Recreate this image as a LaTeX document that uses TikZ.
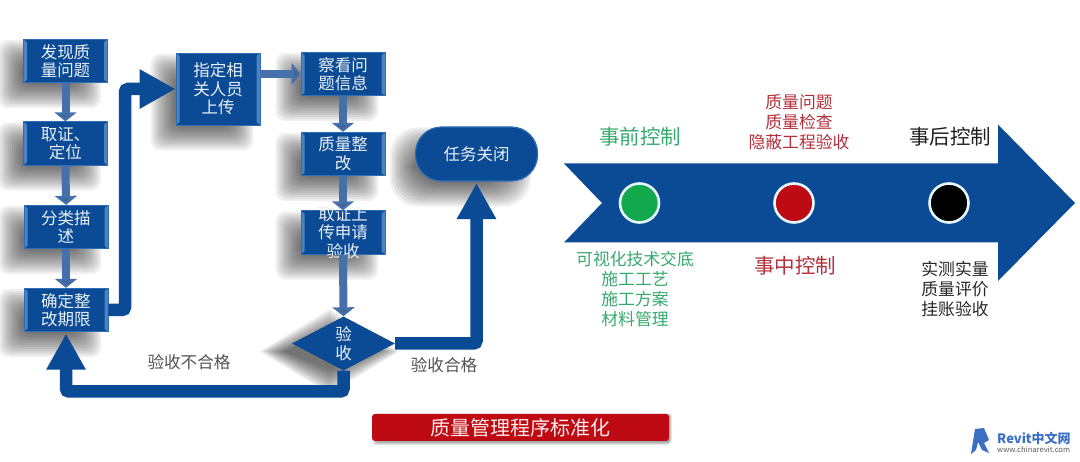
\documentclass[tikz,border=0pt]{standalone}
\usepackage{fontspec}
\setmainfont{Noto Sans CJK SC}
\usepackage{xcolor}
\usetikzlibrary{arrows.meta,shapes.geometric,backgrounds}
\definecolor{flowblue}{HTML}{0B4A94}
\definecolor{edgeblue}{HTML}{2F6DB5}
\definecolor{bevelblue}{HTML}{4A82C4}
\definecolor{shaftblue}{HTML}{4670AA}
\definecolor{pregreen}{HTML}{35A96E}
\definecolor{midred}{HTML}{B2303C}
\definecolor{logoblue}{HTML}{3B6FC4}
\definecolor{titlered}{HTML}{BE0A12}
\definecolor{dotgreen}{HTML}{11A84E}
\newcommand{\boxshadow}[2][4pt]{
    \begin{scope}[on background layer]
        \foreach \g in {0,...,12} {
            \fill[black,opacity=0.058,rounded corners=#1+6pt] ([shift={(-13pt-12pt+\g*2pt,-13pt-12pt+\g*2pt)}]#2.south west) rectangle ([shift={(-19pt+12pt-\g*2pt,-13pt+12pt-\g*2pt)}]#2.north east);
        }
    \end{scope}
}
\newcommand{\diamondshadow}[1]{
    \begin{scope}[on background layer]
        \foreach \g in {0,...,12} {
            \fill[black,opacity=0.058] ([shift={(-14pt,-8pt+15pt-\g*2pt)}]#1.north) -- ([shift={(-14pt+18pt-\g*2pt,-8pt)}]#1.east) -- ([shift={(-14pt,-8pt-15pt+\g*2pt)}]#1.south) -- ([shift={(-14pt-18pt+\g*2pt,-8pt)}]#1.west) -- cycle;
        }
    \end{scope}
}
\tikzset{
    boxtext/.style={text=white!92!flowblue,align=center,font=\fontsize{16.5}{18.5}\selectfont,inner sep=0pt},
    bluebox/.style={boxtext,rectangle,fill=flowblue,draw=edgeblue,line width=0.8pt,minimum width=84pt,minimum height=43.5pt,
        path picture={
            \fill[bevelblue] (path picture bounding box.north west) -- ([shift={(3.5pt,-3pt)}]path picture bounding box.north west) -- ([shift={(3.5pt,3pt)}]path picture bounding box.south west) -- (path picture bounding box.south west) -- cycle;
            \fill[bevelblue] (path picture bounding box.north east) -- ([shift={(-3.5pt,-3pt)}]path picture bounding box.north east) -- ([shift={(-3.5pt,3pt)}]path picture bounding box.south east) -- (path picture bounding box.south east) -- cycle;
        }},
    smallarrow/.style={draw=shaftblue,line width=8pt,-{Triangle[length=9pt,width=22pt,fill=shaftblue!90!black]}},
    bigarrow/.style={draw=flowblue,line width=12.5pt,rounded corners=3pt,-{Triangle[length=36pt,width=37pt,fill=flowblue]}},
    flowlabel/.style={text=black!68,font=\fontsize{16.6}{18.5}\selectfont,inner sep=0pt},
    stagehead/.style={font=\fontsize{20.5}{22}\selectfont,inner sep=0pt},
    stagelist/.style={align=center,font=\fontsize{16.8}{20}\selectfont,inner sep=0pt},
    stagedot/.style={circle,draw=white!90!cyan,line width=2.6pt,minimum size=39pt,inner sep=0pt},
}
\begin{document}
\begin{tikzpicture}[x=1pt,y=-1pt]
    \useasboundingbox (0,0) rectangle (1080,462);

    \foreach \name/\pos/\txt in {b1/{65.5,61}/{发现质\\量问题}, b2/{65.5,143.5}/{取证、\\定位}, b3/{66,227}/{分类描\\述}, b4/{66,310}/{确定整\\改期限}, b6/{343,74}/{察看问\\题信息}, b7/{343,154}/{质量整\\改}} {
        \node[bluebox] (\name) at (\pos) {\txt};
    }
    \node[bluebox,minimum height=72pt] (b5) at (218,89) {指定相\\关人员\\上传};
    \node[bluebox,label={[boxtext]center:取证上\\传申请\\验收}] (b8) at (343,232.5) {};
    \node[boxtext,diamond,aspect=1.9,fill=flowblue,minimum width=103pt,minimum height=54pt] (check) at (343.5,343.5) {验\\收};
    \node[boxtext,rectangle,rounded corners=26pt,fill=flowblue,draw=edgeblue,line width=1.2pt,minimum width=122pt,minimum height=54pt] (closed) at (476.5,154) {任务关闭};

    \foreach \name in {b1,b2,b3,b4,b5,b6,b7,b8} {
        \boxshadow{\name}
    }
    \boxshadow[22pt]{closed}
    \diamondshadow{check}

    \foreach \a/\b in {b1/b2,b2/b3,b3/b4,b6/b7,b7/b8,b8/check} {
        \draw[smallarrow] (\a.south) -- (\b.north);
    }
    \draw[smallarrow] (b5.east |- b6.west) -- (b6.west);

    \coordinate (riseline) at (125,0);
    \coordinate (failline) at (0,391.5);
    \draw[bigarrow] (b4.east) -- (b4.east -| riseline) -- (b5.west -| riseline) -- (b5.west);
    \draw[bigarrow,shorten >=1.5pt] (check.east) -| (closed.south);
    \draw[bigarrow,shorten >=1.5pt] (check.south) -- (check.south |- failline) -- (b4.south |- failline) -- (b4.south);

    \node[flowlabel] (faillabel) at (189,362) {验收不合格};
    \node[flowlabel] (passlabel) at (444,365) {验收合格};

    \fill[flowblue] (564,163.5) -- (998,163.5) -- (998,124.5) -- (1075,203) -- (998,281) -- (998,242.5) -- (564,242.5) -- (602,203) -- cycle;
    \foreach \name/\x/\color in {dotpre/639.5/dotgreen, dotmid/794/titlered, dotpost/949/black} {
        \node[stagedot,fill=\color] (\name) at (\x,203) {};
    }
    \node[stagehead,text=pregreen] (headpre) at (640,137) {事前控制};
    \node[stagehead,text=midred] (headmid) at (795,266) {事中控制};
    \node[stagehead,text=black!88] (headpost) at (950,137) {事后控制};
    \node[stagelist,text=pregreen] (listpre) at (635,289) {可视化技术交底\\施工工艺\\施工方案\\材料管理};
    \node[stagelist,text=midred] (listmid) at (799,122) {质量问题\\质量检查\\隐蔽工程验收};
    \node[stagelist,text=black!85] (listpost) at (955,289) {实测实量\\质量评价\\挂账验收};

    \node[rectangle,rounded corners=3pt,fill=titlered,minimum width=297pt,minimum height=27pt,text=white!92!red,font=\fontsize{20}{22}\selectfont,inner sep=0pt] (title) at (520.5,427.5) {质量管理程序标准化};
    \begin{scope}[on background layer]
        \foreach \g in {0,...,3} {
            \fill[black,opacity=0.1,rounded corners=3pt] ([shift={(4pt-\g*1pt,-1pt-\g*1pt)}]title.south west) rectangle ([shift={(-\g*1pt+3pt,0pt)}]title.north east);
        }
    \end{scope}

    \fill[logoblue] (971,454) -- (975,429) -- (984,428) -- (989,440) -- (984,443) -- (989,453) -- (982,450) -- (978,442) -- (976,450) -- cycle;
    \node[text=logoblue,font=\bfseries\fontsize{13}{14}\selectfont,inner sep=0pt,anchor=west] (logotext) at (997,438) {Revit中文网};
    \node[text=black!65,font=\fontsize{7.6}{9}\selectfont,inner sep=0pt,anchor=west] (logourl) at (997,450) {www.chinarevit.com};
\end{tikzpicture}
\end{document}
